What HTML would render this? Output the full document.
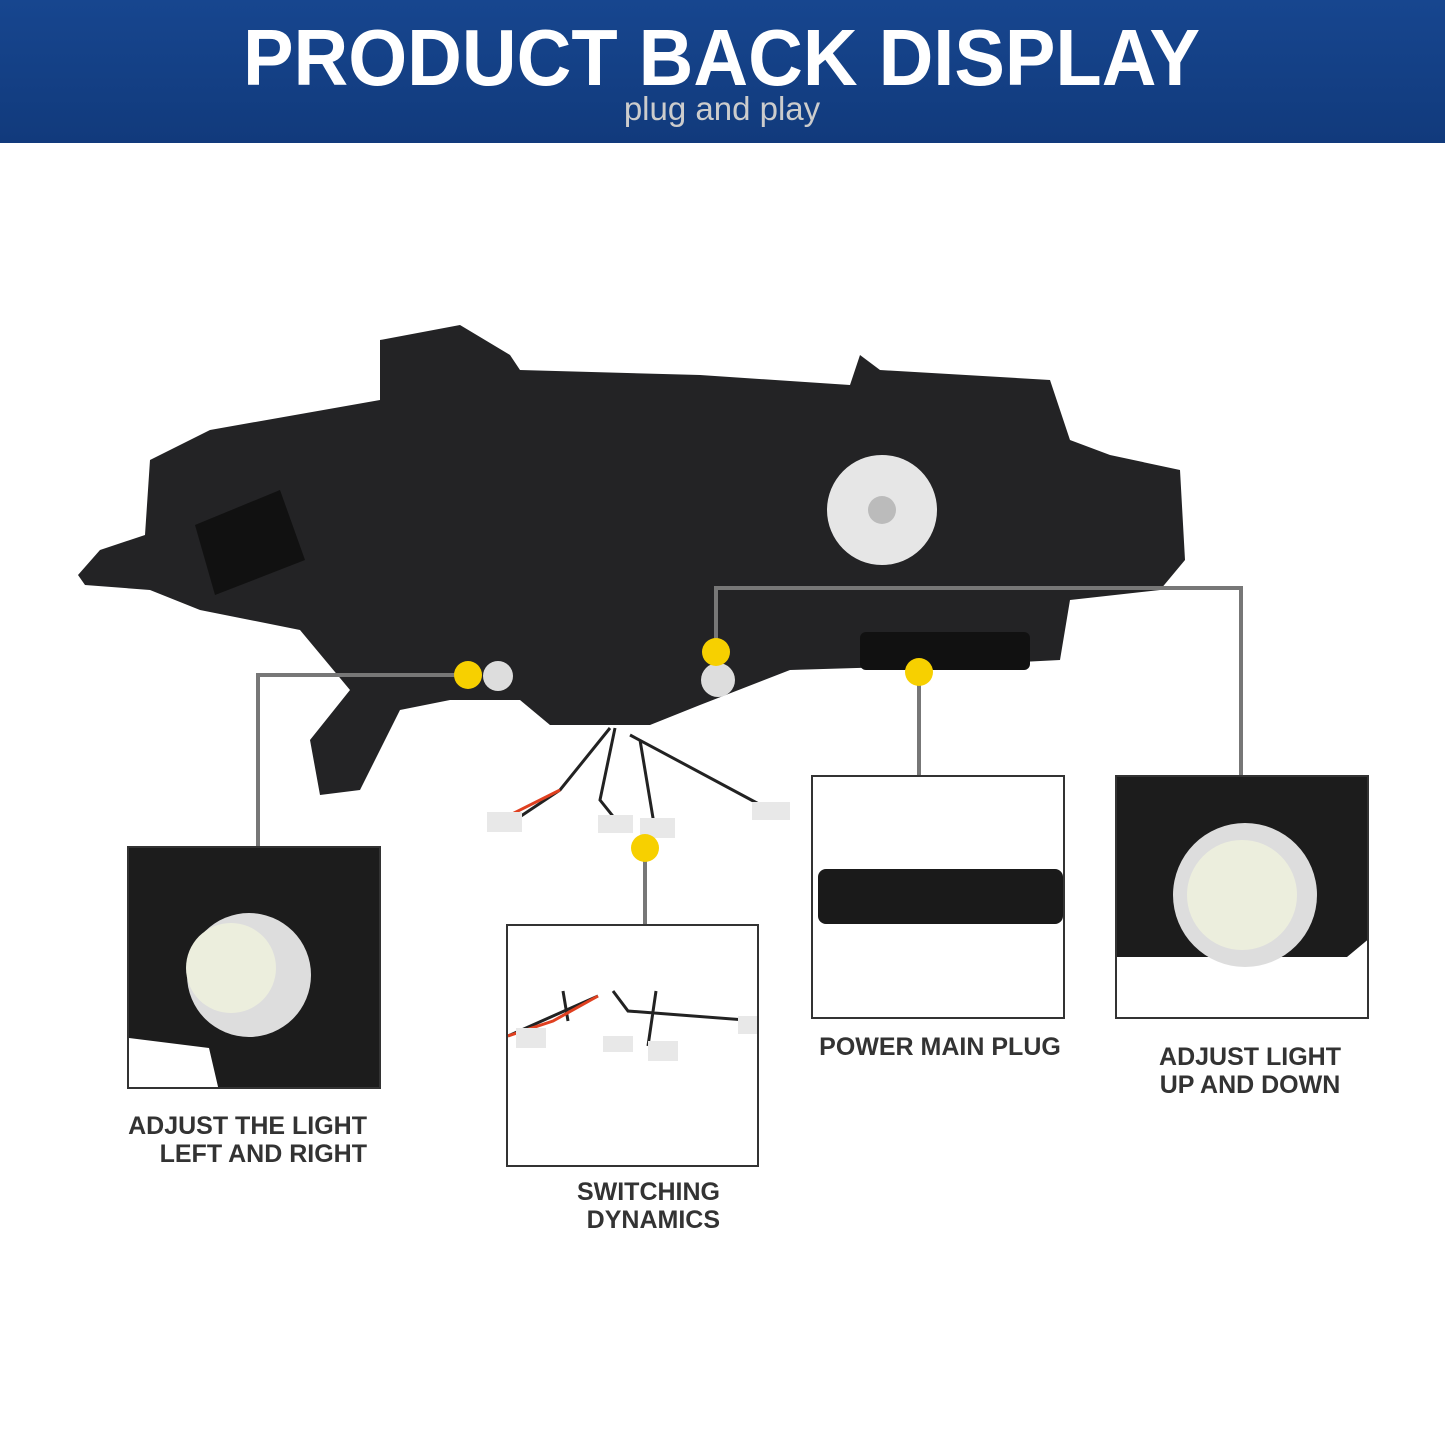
<!DOCTYPE html>
<html><head><style>
body{margin:0;width:1445px;height:1445px;background:#fff;overflow:hidden;position:relative;font-family:"Liberation Sans",sans-serif}
.box{position:absolute;border:2px solid #333;background:#fff;box-sizing:border-box;overflow:hidden}
.lbl{position:absolute;font-weight:bold;font-size:25px;color:#333;line-height:28px;white-space:nowrap}
</style></head><body>
<svg width="1445" height="1445" style="position:absolute;left:0;top:0">
<defs><linearGradient id="g" x1="0" y1="0" x2="0" y2="1"><stop offset="0" stop-color="#17468f"/><stop offset="1" stop-color="#113a7c"/></linearGradient></defs>
<rect x="0" y="0" width="1445" height="143" fill="url(#g)"/>
<text x="243" y="85" font-family="Liberation Sans" font-weight="bold" font-size="80" fill="#fff" textLength="957" lengthAdjust="spacingAndGlyphs">PRODUCT BACK DISPLAY</text>
<text x="722" y="120" text-anchor="middle" font-family="Liberation Sans" font-size="33" fill="#ccc">plug and play</text>
<path d="M78,575 L100,550 L145,535 L150,460 L210,430 L380,400 L380,340 L460,325 L510,355 L520,370 L700,375 L850,385 L860,355 L880,370 L1050,380 L1070,440 L1110,455 L1180,470 L1185,560 L1160,590 L1070,600 L1060,660 L960,665 L790,670 L700,705 L650,725 L550,725 L520,700 L450,700 L400,710 L360,790 L320,795 L310,740 L350,690 L300,630 L200,610 L150,590 L85,585 Z" fill="#232325"/>
<path d="M195,525 L280,490 L305,560 L215,595 Z" fill="#111"/>
<circle cx="882" cy="510" r="55" fill="#e6e6e6"/>
<circle cx="882" cy="510" r="14" fill="#bbb"/>
<rect x="860" y="632" width="170" height="38" rx="6" fill="#111"/>
<path d="M610,728 L560,790 L500,830 M615,728 L600,800 L620,825 M640,740 L650,800 L655,830 M630,735 L770,810" stroke="#222" stroke-width="3" fill="none"/>
<path d="M560,790 L500,820" stroke="#e04020" stroke-width="3"/>
<rect x="487" y="812" width="35" height="20" fill="#e8e8e8"/>
<rect x="598" y="815" width="35" height="18" fill="#e8e8e8"/>
<rect x="640" y="818" width="35" height="20" fill="#e8e8e8"/>
<rect x="752" y="802" width="38" height="18" fill="#e8e8e8"/>
<circle cx="498" cy="676" r="15" fill="#ddd"/>
<circle cx="718" cy="680" r="17" fill="#ddd"/>
<g stroke="#777" stroke-width="4" fill="none">
<path d="M468,675 H258 V848"/>
<path d="M716,652 V588 H1241 V776"/>
<path d="M919,672 V776"/>
<path d="M645,848 V925"/>
</g>
<g fill="#f7d000">
<circle cx="468" cy="675" r="14"/><circle cx="716" cy="652" r="14"/>
<circle cx="919" cy="672" r="14"/><circle cx="645" cy="848" r="14"/>
</g>
</svg>
<div class="box" style="left:127px;top:846px;width:254px;height:243px">
<svg width="254" height="243"><path d="M0,0 H254 V243 H90 L80,200 L0,190 Z" fill="#1c1c1c"/><circle cx="120" cy="127" r="62" fill="#ddd"/><circle cx="102" cy="120" r="45" fill="#eceedd"/></svg></div>
<div class="box" style="left:506px;top:924px;width:253px;height:243px">
<svg width="253" height="243"><path d="M0,110 L90,70 M55,65 L60,95 M105,65 L120,85 L250,95 M148,65 L140,120" stroke="#222" stroke-width="3" fill="none"/><path d="M0,110 L45,95 L90,70" stroke="#e04020" stroke-width="3" fill="none"/><rect x="8" y="102" width="30" height="20" fill="#e8e8e8"/><rect x="95" y="110" width="30" height="16" fill="#e8e8e8"/><rect x="140" y="115" width="30" height="20" fill="#e8e8e8"/><rect x="230" y="90" width="23" height="18" fill="#e8e8e8"/></svg></div>
<div class="box" style="left:811px;top:775px;width:254px;height:244px">
<svg width="254" height="244"><rect x="5" y="92" width="245" height="55" rx="8" fill="#1a1a1a"/></svg></div>
<div class="box" style="left:1115px;top:775px;width:254px;height:244px">
<svg width="254" height="244"><path d="M0,0 H254 V160 L230,180 H0 Z" fill="#1c1c1c"/><circle cx="128" cy="118" r="72" fill="#ddd"/><circle cx="125" cy="118" r="55" fill="#eceedd"/></svg></div>
<div class="lbl" style="left:67px;top:1112px;width:300px;text-align:right">ADJUST THE LIGHT<br>LEFT AND RIGHT</div>
<div class="lbl" style="left:520px;top:1178px;width:200px;text-align:right">SWITCHING<br>DYNAMICS</div>
<div class="lbl" style="left:800px;top:1033px;width:280px;text-align:center">POWER MAIN PLUG</div>
<div class="lbl" style="left:1130px;top:1043px;width:240px;text-align:center">ADJUST LIGHT<br>UP AND DOWN</div>
</body></html>
